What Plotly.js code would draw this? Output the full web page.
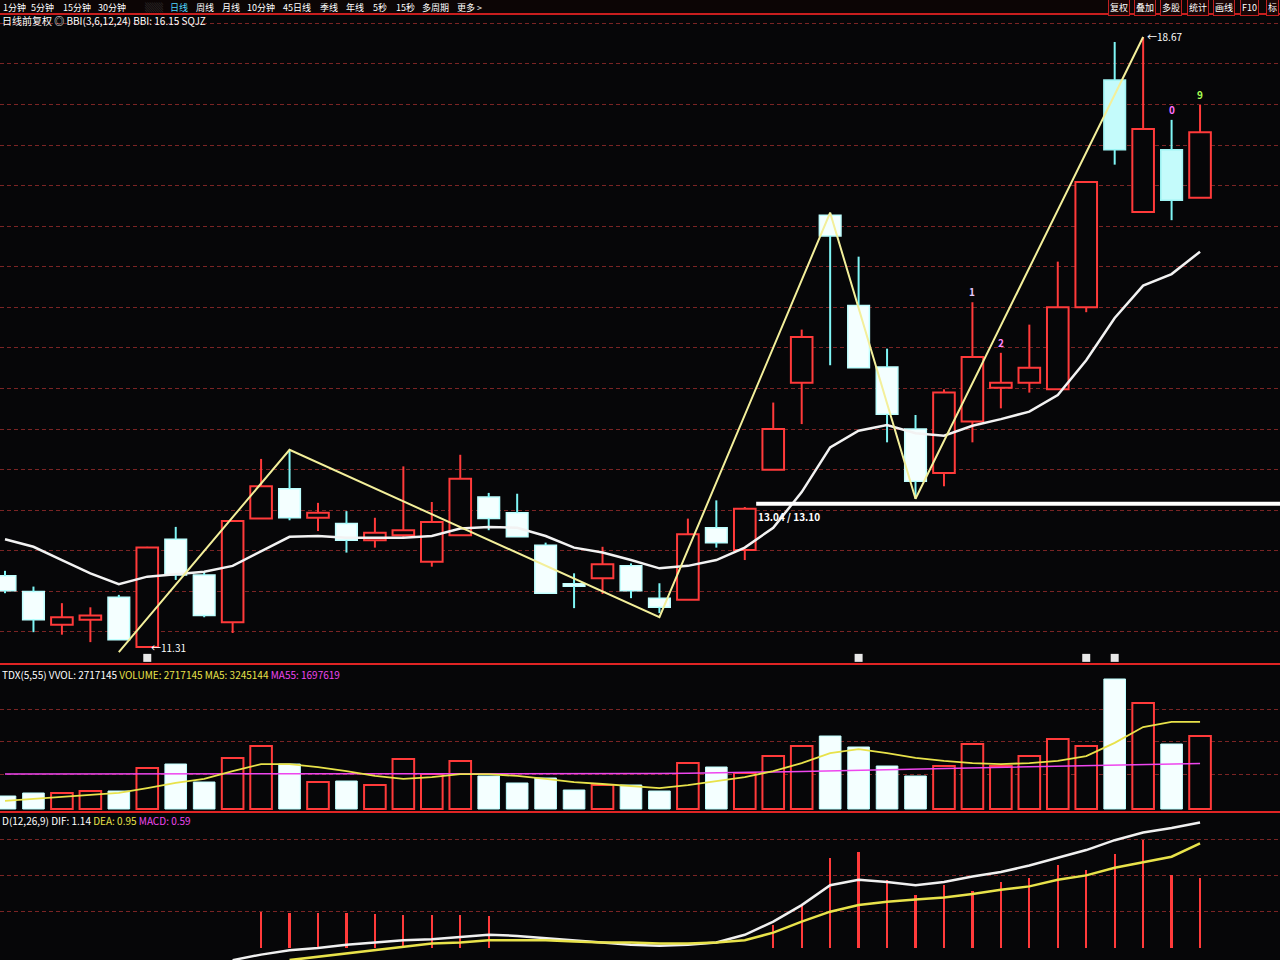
<!DOCTYPE html>
<html><head><meta charset="utf-8">
<script src="https://cdn.plot.ly/plotly-3.0.1.min.js"></script>
<style>html,body{margin:0;padding:0;background:#050507;}#chart{width:1280px;height:960px;}</style>
</head><body><div id="chart"></div>
<script>
// ---------- DATA ----------
const openP  = [12.17,11.98,11.58,11.64,11.91,11.31,12.61,12.18,11.61,12.86,13.22,12.87,12.80,12.60,12.66,12.34,12.66,13.12,12.93,12.54,12.07,12.14,12.29,11.90,11.88,12.75,12.48,13.45,14.50,16.52,15.43,14.69,13.94,13.41,14.03,14.44,14.50,14.42,15.41,18.15,16.56,17.31,16.73];
const highP  = [12.23,12.04,11.84,11.79,11.94,12.52,12.76,12.22,12.84,13.58,13.69,13.05,12.95,12.87,13.49,13.06,13.63,13.17,13.16,12.57,12.20,12.52,12.32,12.08,12.86,13.08,13.00,14.26,15.14,16.55,16.02,14.91,14.11,14.42,15.47,14.86,15.20,15.96,16.92,18.61,18.67,17.67,17.85];
const lowP   = [11.96,11.49,11.46,11.37,11.40,11.31,12.12,11.67,11.48,12.86,12.84,12.71,12.45,12.51,12.64,12.28,12.66,12.72,12.64,11.96,11.78,11.95,11.90,11.72,11.88,12.51,12.36,13.45,14.00,14.71,14.68,13.78,13.10,13.25,13.78,14.19,14.38,14.42,15.35,17.13,16.56,16.46,16.73];
const closeP = [11.99,11.64,11.67,11.69,11.40,12.51,12.18,11.69,12.83,13.25,12.87,12.93,12.60,12.69,12.72,12.82,13.34,12.86,12.64,11.96,12.05,12.31,11.99,11.79,12.67,12.57,12.98,13.94,15.05,16.27,14.68,14.12,13.31,14.38,14.81,14.50,14.68,15.41,16.92,17.31,17.56,16.70,17.52];
const bbi    = [12.61,12.52,12.36,12.20,12.07,12.16,12.19,12.22,12.29,12.46,12.64,12.65,12.63,12.63,12.63,12.65,12.74,12.76,12.75,12.65,12.51,12.45,12.36,12.26,12.29,12.36,12.51,12.75,13.18,13.72,13.92,13.99,13.89,13.86,13.98,14.06,14.15,14.35,14.77,15.28,15.67,15.81,16.08];
const zigIdx   = [4, 10, 23, 29, 32, 40];
const zigPrice = [11.25, 13.69, 11.67, 16.55, 13.10, 18.67];
const supportLevel = 13.04, supportLevel2 = 13.10, supportFrom = 26.4;
const eventIdx = [5, 30, 38, 39];
const cyanIdx = [39, 41];
const peakMarks = [{i:34,t:"1"},{i:35,t:"2"},{i:41,t:"0"},{i:42,t:"9"}];

const volume = [484000,596000,596000,670000,670000,1526000,1675000,1005000,1898000,2345000,1675000,1005000,1042000,893000,1861000,1303000,1787000,1228000,968000,1154000,707000,893000,893000,670000,1712000,1563000,1340000,1973000,2345000,2717000,2308000,1600000,1228000,1600000,2419000,1600000,1973000,2605000,2345000,4839000,3945000,2419000,2717145];
const volMA5 = [300000,370000,450000,520000,600000,780000,970000,1120000,1410000,1670000,1670000,1560000,1410000,1230000,1120000,1190000,1300000,1300000,1230000,1120000,1000000,930000,860000,780000,890000,1040000,1190000,1410000,1710000,2080000,2230000,2080000,1900000,1790000,1710000,1670000,1710000,1790000,1970000,2460000,3050000,3245144,3245144];
const volMA55 = [1300000,1300000,1300000,1300000,1300000,1300000,1300000,1300000,1300000,1300000,1300000,1300000,1300000,1300000,1300000,1300000,1300000,1300000,1300000,1300000,1310000,1310000,1310000,1320000,1330000,1340000,1360000,1380000,1400000,1420000,1440000,1460000,1480000,1500000,1520000,1540000,1560000,1580000,1600000,1630000,1660000,1680000,1697619];

const dif = [null,null,null,null,null,null,null,null,-0.11,-0.06,-0.02,0.00,0.03,0.05,0.07,0.08,0.10,0.12,0.11,0.09,0.07,0.05,0.03,0.02,0.03,0.05,0.12,0.24,0.39,0.57,0.62,0.60,0.57,0.60,0.65,0.69,0.75,0.82,0.89,0.98,1.05,1.09,1.14];
const dea = [null,null,null,null,null,null,null,null,null,null,-0.11,-0.08,-0.05,-0.02,0.01,0.04,0.05,0.07,0.07,0.07,0.06,0.05,0.05,0.04,0.04,0.05,0.07,0.14,0.24,0.33,0.39,0.42,0.44,0.46,0.49,0.53,0.56,0.62,0.66,0.73,0.78,0.83,0.95];
const macd = [0,0,0,0,0,0,0,0,0,0.33,0.32,0.32,0.32,0.31,0.30,0.30,0.30,0.29,0,0,0,0,0,0,0,0,0,0.21,0.39,0.82,0.87,0.62,0.48,0.57,0.52,0.60,0.64,0.75,0.71,0.85,0.98,0.66,0.64];

const toolbarItems = ["1分钟","5分钟","15分钟","30分钟","▒▒","日线","周线","月线","10分钟","45日线","季线","年线","5秒","15秒","多周期","更多 >"];
const toolbarRight = ["复权","叠加","多股","统计","画线","F10","标"];

// ---------- helpers ----------
const N = openP.length;
const idx = openP.map((_, i) => i);
const W = 1280, H = 960;
const px = x => x / W, py = y => 1 - y / H;
const RED = '#ff3a3a', CYAN = '#7ff6f6', WHITE = '#f4ffff', YEL = '#e8e24a', MAG = '#ee46ee';

const up = idx.filter(i => closeP[i] >= openP[i]);
const dn = idx.filter(i => closeP[i] < openP[i] && cyanIdx.indexOf(i) < 0);
const dnC = idx.filter(i => closeP[i] < openP[i] && cyanIdx.indexOf(i) >= 0);
const dnAll = idx.filter(i => closeP[i] < openP[i]);
const minBody = 0.03;
function bodyBase(i){ const lo=Math.min(openP[i],closeP[i]), hi=Math.max(openP[i],closeP[i]); return (hi-lo<minBody)? (lo+hi)/2-minBody/2 : lo; }
function bodyH(i){ return Math.max(Math.abs(closeP[i]-openP[i]), minBody); }
function wicks(list){
  const xs=[], ys=[];
  list.forEach(i=>{ const b=bodyBase(i), t=b+bodyH(i);
    xs.push(i,i,null,i,i,null); ys.push(lowP[i],b,null,t,highP[i],null); });
  return {xs, ys};
}
const wu = wicks(up), wd = wicks(dnAll);

const traces = [];
traces.push({type:'scatter',mode:'lines',x:wu.xs,y:wu.ys,line:{color:RED,width:2},hoverinfo:'skip',xaxis:'x',yaxis:'y'});
traces.push({type:'scatter',mode:'lines',x:wd.xs,y:wd.ys,line:{color:CYAN,width:2},hoverinfo:'skip',xaxis:'x',yaxis:'y'});
traces.push({type:'bar',x:up,base:up.map(bodyBase),y:up.map(bodyH),width:0.76,marker:{color:'#060608',line:{color:RED,width:2}},xaxis:'x',yaxis:'y'});
traces.push({type:'bar',x:dn,base:dn.map(bodyBase),y:dn.map(bodyH),width:0.76,marker:{color:WHITE,line:{color:'#bfffff',width:1.5}},xaxis:'x',yaxis:'y'});
traces.push({type:'bar',x:dnC,base:dnC.map(bodyBase),y:dnC.map(bodyH),width:0.76,marker:{color:'#c4fbfb',line:{color:'#9ff4f4',width:1.5}},xaxis:'x',yaxis:'y'});
traces.push({type:'scatter',mode:'lines',x:idx,y:bbi,line:{color:'#f2f2f2',width:2.5},xaxis:'x',yaxis:'y'});
traces.push({type:'scatter',mode:'lines',x:zigIdx,y:zigPrice,line:{color:'#f3ef9a',width:2},xaxis:'x',yaxis:'y'});
traces.push({type:'scatter',mode:'lines',x:[supportFrom,N+2],y:[supportLevel,supportLevel],line:{color:'#ffffff',width:4},xaxis:'x',yaxis:'y'});
traces.push({type:'scatter',mode:'markers',x:eventIdx,y:eventIdx.map(()=>11.18),marker:{symbol:'square',size:8,color:'#e8e8e8'},xaxis:'x',yaxis:'y'});

// volume
const vup = idx.filter(i => closeP[i] >= openP[i]);
const vdn = idx.filter(i => closeP[i] < openP[i]);
traces.push({type:'bar',x:vup,y:vup.map(i=>volume[i]),width:0.76,marker:{color:'#060608',line:{color:RED,width:2}},xaxis:'x',yaxis:'y2'});
traces.push({type:'bar',x:vdn,y:vdn.map(i=>volume[i]),width:0.76,marker:{color:WHITE,line:{color:'#bfffff',width:1}},xaxis:'x',yaxis:'y2'});
traces.push({type:'scatter',mode:'lines',x:idx,y:volMA55,line:{color:MAG,width:1.5},xaxis:'x',yaxis:'y2'});
traces.push({type:'scatter',mode:'lines',x:idx,y:volMA5,line:{color:YEL,width:1.8},xaxis:'x',yaxis:'y2'});

// macd
const mpos = idx.filter(i=>macd[i]>0);
traces.push({type:'bar',x:mpos,y:mpos.map(i=>macd[i]),width:0.08,marker:{color:RED,line:{width:0}},xaxis:'x',yaxis:'y3'});
traces.push({type:'scatter',mode:'lines',x:idx,y:dif,line:{color:'#f0f0f0',width:2.5},connectgaps:false,xaxis:'x',yaxis:'y3'});
traces.push({type:'scatter',mode:'lines',x:idx,y:dea,line:{color:YEL,width:2.5},connectgaps:false,xaxis:'x',yaxis:'y3'});

const priceGrid = []; for(let k=0;k<16;k++) priceGrid.push(11.493+k*0.4894);

const font = (c,s)=>({family:'"Noto Sans CJK SC","DejaVu Sans",sans-serif',color:c,size:s||10});
const ann = [];
let tx=[1,29,61,96,143,168,194,220,245,281,318,344,371,394,420,455];
toolbarItems.forEach((t,k)=>ann.push({xref:'paper',yref:'paper',x:px(tx[k]),y:py(7),xanchor:'left',yanchor:'middle',text:t,showarrow:false,font:font(t==='日线'?'#50d8ff':(t==='▒▒'?'#555':'#ffffff'),9)}));
let rx=[1108,1134,1160,1187,1213,1240,1266];
toolbarRight.forEach((t,k)=>ann.push({xref:'paper',yref:'paper',x:px(rx[k]),y:py(8),xanchor:'left',yanchor:'middle',text:t,showarrow:false,font:font('#ffffff',9),bgcolor:'#1a0606',bordercolor:'#c02020',borderwidth:1,borderpad:1}));
ann.push({xref:'paper',yref:'paper',x:px(0),y:py(20),xanchor:'left',yanchor:'middle',showarrow:false,font:font('#ffffff',10),
  text:'日线前复权 ◎ BBI(3,6,12,24) BBI: 16.15 SQJZ'});
ann.push({xref:'paper',yref:'paper',x:px(0),y:py(674),xanchor:'left',yanchor:'middle',showarrow:false,font:font('#ffffff',10),
  text:'TDX(5,55) VVOL: 2717145 <span style="color:'+YEL+'">VOLUME: 2717145 MA5: 3245144</span> <span style="color:'+MAG+'">MA55: 1697619</span>'});
ann.push({xref:'paper',yref:'paper',x:px(0),y:py(820),xanchor:'left',yanchor:'middle',showarrow:false,font:font('#ffffff',10),
  text:'D(12,26,9) DIF: 1.14 <span style="color:'+YEL+'">DEA: 0.95</span> <span style="color:'+MAG+'">MACD: 0.59</span>'});
ann.push({xref:'x',yref:'y',x:40,y:highP[40],xanchor:'left',yanchor:'middle',xshift:2,showarrow:false,font:font('#ffffff',10),text:'←18.67'});
ann.push({xref:'x',yref:'y',x:5,y:lowP[5],xanchor:'left',yanchor:'middle',xshift:2,showarrow:false,font:font('#ffffff',10),text:'←11.31'});
ann.push({xref:'x',yref:'y',x:supportFrom,y:supportLevel,xanchor:'left',yanchor:'top',yshift:-3,showarrow:false,font:font('#ffffff',10),text:'<b>13.04 / '+supportLevel2.toFixed(2)+'</b>'});
const pmCol = {'1':'#e6c8ff','2':'#ff88ff','0':'#ff70ff','9':'#aaff55'};
peakMarks.forEach(m=>ann.push({xref:'x',yref:'y',x:m.i,y:highP[m.i],yanchor:'bottom',yshift:1,showarrow:false,font:font(pmCol[m.t],10),text:'<b>'+m.t+'</b>'}));

const shapes = [
  {type:'rect',xref:'paper',yref:'paper',x0:0,x1:1,y0:py(14),y1:1,fillcolor:'#0c0505',line:{width:0},layer:'below'},
  {type:'line',xref:'paper',yref:'paper',x0:0,x1:1,y0:py(14),y1:py(14),line:{color:'#c81e1e',width:2}},
  {type:'line',xref:'paper',yref:'paper',x0:0,x1:1,y0:py(664),y1:py(664),line:{color:'#e02424',width:2}},
  {type:'line',xref:'paper',yref:'paper',x0:0,x1:1,y0:py(812),y1:py(812),line:{color:'#e02424',width:2}}
];

const gridStyle = {gridcolor:'#7a2424',griddash:'4px,3px',gridwidth:1};
const layout = {
  width:W,height:H,margin:{l:0,r:0,t:0,b:0},
  paper_bgcolor:'#060608',plot_bgcolor:'#060608',
  showlegend:false,barmode:'overlay',bargap:0,
  xaxis:{range:[-0.176,44.81],showgrid:false,zeroline:false,showticklabels:false,fixedrange:true},
  yaxis:Object.assign({domain:[py(664),py(18)],range:[11.106,18.899],tickvals:priceGrid,showticklabels:false,zeroline:false},gridStyle),
  yaxis2:Object.assign({domain:[py(812),py(664)],range:[-111663,5397045],tickvals:[1300000,2500000,3700000],showticklabels:false,zeroline:false},gridStyle),
  yaxis3:Object.assign({domain:[0,py(812)],range:[-0.109,1.236],tickvals:[0.33,0.66,0.99],showticklabels:false,zeroline:false},gridStyle),
  annotations:ann,shapes:shapes
};
Plotly.newPlot('chart',traces,layout,{staticPlot:true,displayModeBar:false});
</script></body></html>
